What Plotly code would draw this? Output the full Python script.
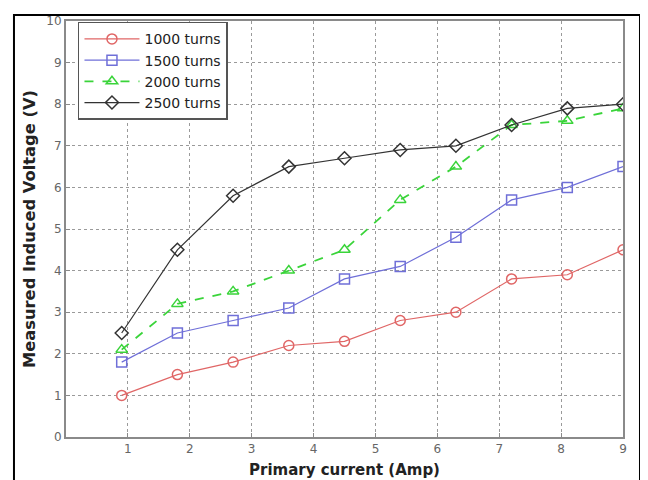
import plotly.graph_objects as go

current = [0.9, 1.8, 2.7, 3.6, 4.5, 5.4, 6.3, 7.2, 8.1, 9.0]
v1000 = [1.0, 1.5, 1.8, 2.2, 2.3, 2.8, 3.0, 3.8, 3.9, 4.5]
v1500 = [1.8, 2.5, 2.8, 3.1, 3.8, 4.1, 4.8, 5.7, 6.0, 6.5]
v2000 = [2.1, 3.2, 3.5, 4.0, 4.5, 5.7, 6.5, 7.5, 7.6, 7.9]
v2500 = [2.5, 4.5, 5.8, 6.5, 6.7, 6.9, 7.0, 7.5, 7.9, 8.0]
names = ["1000 turns", "1500 turns", "2000 turns", "2500 turns"]
xticks = [1, 2, 3, 4, 5, 6, 7, 8, 9]
yticks = [0, 1, 2, 3, 4, 5, 6, 7, 8, 9, 10]

styles = [
    dict(color="#e06666", symbol="circle-open", dash="solid", width=1.2),
    dict(color="#6f6fd8", symbol="square-open", dash="solid", width=1.2),
    dict(color="#3ad43a", symbol="triangle-up-open", dash="dash", width=1.8),
    dict(color="#333333", symbol="diamond-open", dash="solid", width=1.2),
]

fig = go.Figure()
for name, vals, st in zip(names, [v1000, v1500, v2000, v2500], styles):
    fig.add_trace(go.Scatter(
        x=current, y=vals, name=name, legendgroup=name, mode="lines+markers",
        line=dict(color=st["color"], width=st["width"], dash=st["dash"]),
        marker=dict(symbol=st["symbol"], size=10, color=st["color"],
                    line=dict(width=1.5, color=st["color"])),
    ))

axis_common = dict(
    showline=True, linecolor="#8a8a8a", linewidth=2, mirror=True,
    ticks="inside", ticklen=4, tickcolor="#8a8a8a",
    showgrid=True, gridcolor="#9a9a9a", griddash="dot", gridwidth=1,
    zeroline=False,
    tickfont=dict(family="DejaVu Sans", size=12, color="#666666"),
)

fig.update_layout(
    width=648, height=480,
    margin=dict(l=58, r=33, t=6, b=51),
    paper_bgcolor="white", plot_bgcolor="white",
    xaxis=dict(range=[0, 9], tickvals=xticks, **axis_common,
               title=dict(text="<b>Primary current (Amp)</b>", standoff=9,
                          font=dict(family="DejaVu Sans", size=15, color="#222"))),
    yaxis=dict(range=[0, 10], tickvals=yticks, **axis_common,
               title=dict(text="<b>Measured Induced Voltage (V)</b>", standoff=7,
                          font=dict(family="DejaVu Sans", size=16.3, color="#222"))),
    legend=dict(x=0.0215, y=0.998, xanchor="left", yanchor="top",
                bgcolor="white", bordercolor="#555555", borderwidth=1.5,
                itemwidth=55, tracegroupgap=0,
                font=dict(family="DejaVu Sans", size=14, color="#222")),
    showlegend=True,
)

fig.add_shape(type="rect", xref="paper", yref="paper",
              x0=-0.0934, x1=1.0305, y0=-0.15, y1=1.0142,
              line=dict(color="black", width=2), layer="above")

fig.write_html("out.html")
